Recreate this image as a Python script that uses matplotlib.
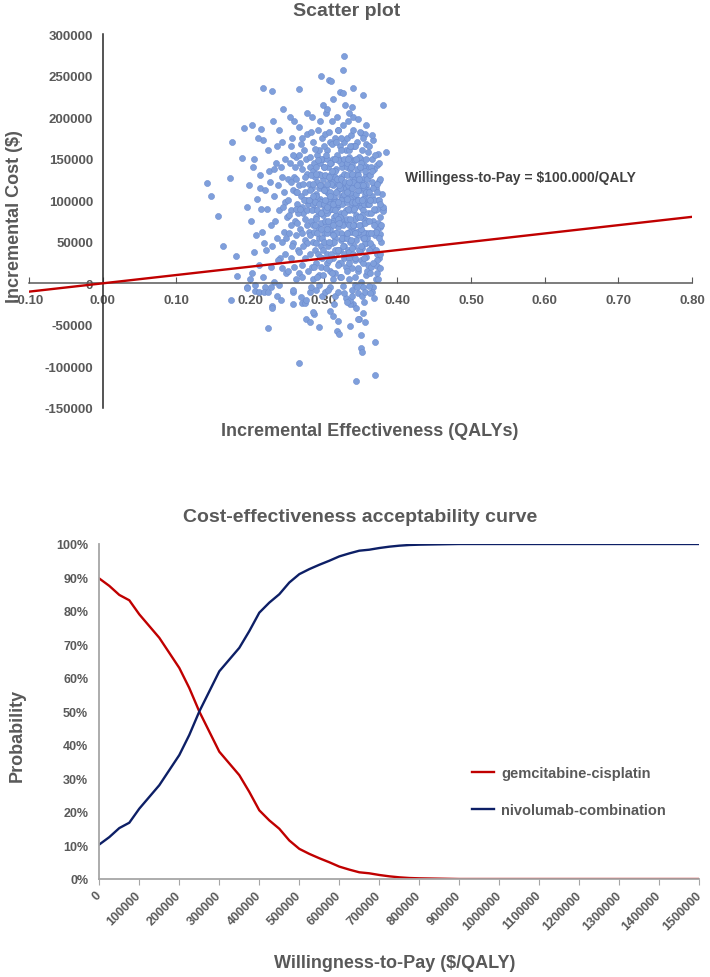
import matplotlib
matplotlib.use("Agg")
import matplotlib.pyplot as plt
import numpy as np

plt.rcParams['font.family'] = ['Liberation Sans', 'DejaVu Sans']
plt.rcParams['font.weight'] = 'bold'
GREY = '#595959'

# ---- scatter plot data (incremental QALYs, incremental cost in $1000) ----
scatter_pts = [
    # sparse outliers
    (0.141, 121), (0.147, 105), (0.156, 81), (0.164, 45), (0.181, 33), (0.173, 127), (0.176, 170),
    (0.182, 9), (0.174, -20), (0.189, 151), (0.192, 187), (0.203, 191), (0.215, 186), (0.218, 235),
    (0.230, 231), (0.267, 234), (0.297, 249), (0.307, 245), (0.310, 243), (0.327, 273), (0.326, 257),
    (0.322, 230), (0.326, 229), (0.340, 235), (0.353, 227), (0.339, 212), (0.380, 214), (0.340, 200),
    (0.334, 205), (0.385, 158), (0.374, 156), (0.367, 173), (0.351, 181), (0.375, 123), (0.380, 90),
    (0.381, 87), (0.377, 68), (0.376, 59), (0.373, 21), (0.372, 12), (0.355, -23), (0.340, -25),
    (0.354, -36), (0.348, -43), (0.356, -47), (0.336, -51), (0.351, -62), (0.370, -70), (0.351, -78),
    (0.352, -83), (0.370, -110), (0.344, -118), (0.224, -54), (0.267, -96), (0.230, -27), (0.230, -30),
    (0.276, -43), (0.282, -47), (0.293, -52), (0.287, -37), (0.270, -24), (0.309, -33), (0.312, -39),
    (0.320, -45), (0.318, -57), (0.321, -61), (0.336, -25), (0.347, -43), (0.220, -4), (0.207, -9),
    (0.196, -5), (0.330, -18), (0.285, -35), (0.274, -24), (0.269, -17), (0.259, -11), (0.281, -11),
    (0.212, -10), (0.219, -10), (0.196, -6),
    # 0.19 - 0.22
    (0.196, 92), (0.199, 118), (0.201, 75), (0.204, 140), (0.206, 150), (0.208, 58), (0.210, 102),
    (0.212, 22), (0.200, 5), (0.205, 38), (0.214, 130), (0.216, 62), (0.218, 172), (0.211, 175),
    (0.203, 12), (0.219, 48), (0.215, 90), (0.207, -2), (0.213, 115), (0.217, 8),
    # 0.22 - 0.25
    (0.221, 112), (0.223, 90), (0.224, 160), (0.226, 135), (0.228, 70), (0.222, 40), (0.229, 20),
    (0.231, 195), (0.233, 105), (0.235, 145), (0.236, 55), (0.238, 118), (0.240, 88), (0.241, 30),
    (0.243, 170), (0.244, 128), (0.246, 62), (0.247, 98), (0.249, 12), (0.225, -10), (0.232, 2),
    (0.237, -15), (0.242, -20), (0.248, 150), (0.239, 185), (0.245, 210), (0.234, 75), (0.227, 122),
    (0.230, 45), (0.250, 80), (0.246, 110), (0.240, -2), (0.243, 50), (0.236, 165), (0.229, -4),
    (0.244, 18), (0.248, 35), (0.232, 138), (0.238, 28), (0.251, 125),
    (0.245, 92), (0.249, 55), (0.242, 140),
    # 0.25 - 0.28
    (0.252, 100), (0.253, 60), (0.254, 145), (0.255, 30), (0.256, 88), (0.257, 175), (0.258, 112),
    (0.259, 48), (0.260, 128), (0.261, 75), (0.262, 5), (0.263, 152), (0.264, 95), (0.265, 40),
    (0.266, 118), (0.267, 188), (0.268, 65), (0.269, 105), (0.270, 138), (0.271, 22), (0.272, 85),
    (0.273, 160), (0.274, 52), (0.275, 110), (0.276, -20), (0.277, 132), (0.278, 70), (0.279, 95),
    (0.252, 15), (0.255, 165), (0.258, -25), (0.260, 195), (0.262, 110), (0.264, 72), (0.266, 12),
    (0.268, 145), (0.270, 92), (0.272, 120), (0.274, 30), (0.276, 100), (0.278, 180), (0.253, 82),
    (0.256, 122), (0.259, -8), (0.261, 140), (0.263, 58), (0.265, 85), (0.267, 38), (0.269, 168),
    (0.271, 60), (0.273, 100), (0.275, 78), (0.277, 205), (0.279, 15), (0.254, 200), (0.257, 45),
    (0.262, 90), (0.266, 155), (0.270, 8), (0.274, 128), (0.278, 48), (0.280, 120), (0.280, 62),
    (0.255, 70), (0.262, 125), (0.268, 90), (0.272, 45), (0.276, 150), (0.258, 155), (0.264, 110),
    (0.270, 175), (0.260, 20), (0.277, 88),
    # 0.28 - 0.30
    (0.281, 100), (0.282, 140), (0.283, 75), (0.284, 115), (0.285, 50), (0.286, 170), (0.287, 90),
    (0.288, 128), (0.289, 25), (0.290, 108), (0.291, 155), (0.292, 68), (0.293, 132), (0.294, 85),
    (0.295, 195), (0.296, 45), (0.297, 118), (0.298, 95), (0.299, 150), (0.300, 60), (0.281, 35),
    (0.283, 182), (0.285, 95), (0.287, 145), (0.289, 80), (0.291, 122), (0.293, 10), (0.295, 102),
    (0.297, 72), (0.299, 125), (0.282, 58), (0.284, 88), (0.286, 120), (0.288, 40), (0.290, 78),
    (0.292, 100), (0.294, 160), (0.296, 130), (0.298, 30), (0.300, 88), (0.281, 152), (0.283, -5),
    (0.285, 135), (0.287, 62), (0.289, 105), (0.291, 88), (0.293, 55), (0.295, 145), (0.297, 20),
    (0.299, 82), (0.282, 112), (0.284, 200), (0.286, 70), (0.288, 98), (0.290, 140), (0.292, 35),
    (0.294, 115), (0.296, 65), (0.298, 175), (0.300, 112), (0.284, 20), (0.288, 162), (0.292, 185),
    (0.296, 98), (0.300, 140), (0.286, 5), (0.290, 48), (0.294, -2), (0.298, 55), (0.299, 215),
    (0.280, 100), (0.283, 130), (0.286, 105), (0.289, 132), (0.291, 60), (0.293, 95), (0.295, 118),
    (0.297, 150), (0.299, 40), (0.287, 20), (0.291, 8), (0.295, 32), (0.299, 10), (0.288, 70),
    (0.292, 148), (0.296, 85), (0.290, -8), (0.298, -15),
    # 0.30 - 0.33
    (0.301, 95), (0.302, 130), (0.303, 70), (0.304, 110), (0.305, 160), (0.306, 45), (0.307, 88),
    (0.308, 125), (0.309, 62), (0.310, 145), (0.311, 100), (0.312, 30), (0.313, 118), (0.314, 80),
    (0.315, 175), (0.316, 55), (0.317, 138), (0.318, 92), (0.319, 112), (0.320, 68), (0.321, 150),
    (0.322, 40), (0.323, 105), (0.324, 128), (0.325, 78), (0.326, 190), (0.327, 58), (0.328, 98),
    (0.329, 142), (0.330, 20), (0.301, 50), (0.302, 180), (0.303, 115), (0.304, 25), (0.305, 85),
    (0.306, 140), (0.307, 108), (0.308, 65), (0.309, 170), (0.310, 90), (0.311, 48), (0.312, 122),
    (0.313, 75), (0.314, 135), (0.315, 100), (0.316, 12), (0.317, 82), (0.318, 155), (0.319, 40),
    (0.320, 120), (0.321, 95), (0.322, 165), (0.323, 60), (0.324, 85), (0.325, 140), (0.326, 105),
    (0.327, 30), (0.328, 120), (0.329, 72), (0.330, 160), (0.301, 140), (0.302, 75), (0.303, 205),
    (0.304, 150), (0.305, 35), (0.306, 100), (0.307, 182), (0.308, 15), (0.309, 95), (0.310, 120),
    (0.311, 72), (0.312, 150), (0.313, 5), (0.314, 105), (0.315, 60), (0.316, 128), (0.317, 110),
    (0.318, 38), (0.319, 185), (0.320, 95), (0.321, 25), (0.322, 80), (0.323, 145), (0.324, 52),
    (0.325, 115), (0.326, 70), (0.327, 132), (0.328, 45), (0.329, 100), (0.330, 88), (0.302, 100),
    (0.304, 60), (0.306, 75), (0.308, 145), (0.310, 35), (0.312, 90), (0.314, 50), (0.316, 98),
    (0.318, 125), (0.320, 148), (0.322, 115), (0.324, 100), (0.326, 45), (0.328, 170), (0.330, 115),
    (0.303, 88), (0.305, 120), (0.307, 50), (0.309, 130), (0.311, 168), (0.313, 95), (0.315, 135),
    (0.317, 60), (0.319, 78), (0.321, 118), (0.323, 25), (0.325, 95), (0.327, 150), (0.329, 55),
    (0.331, 130), (0.305, 210), (0.311, 195), (0.318, 200), (0.324, 175), (0.329, 215), (0.313, 222),
    (0.320, 185), (0.302, -10), (0.308, -5), (0.315, -15), (0.322, 8), (0.328, -12), (0.331, 75),
    (0.332, 105), (0.333, 40),
    (0.301, 112), (0.303, 155), (0.305, 65), (0.307, 128), (0.309, 110), (0.311, 135), (0.313, 58),
    (0.315, 88), (0.317, 170), (0.319, 98), (0.321, 72), (0.323, 125), (0.325, 55), (0.327, 108),
    (0.329, 122), (0.303, 18), (0.307, 28), (0.311, 12), (0.315, 40), (0.319, 22), (0.323, 8),
    (0.327, 35), (0.300, 165), (0.304, 92), (0.308, 105), (0.312, 70), (0.316, 150), (0.320, 40),
    (0.324, 160), (0.328, 85), (0.306, -8), (0.314, -25), (0.320, -10), (0.326, -3),
    # 0.33 - 0.36
    (0.331, 98), (0.332, 140), (0.333, 72), (0.334, 115), (0.335, 160), (0.336, 50), (0.337, 92),
    (0.338, 128), (0.339, 65), (0.340, 148), (0.341, 105), (0.342, 28), (0.343, 120), (0.344, 82),
    (0.345, 170), (0.346, 58), (0.347, 135), (0.348, 95), (0.349, 112), (0.350, 70), (0.351, 150),
    (0.352, 42), (0.353, 102), (0.354, 125), (0.355, 78), (0.356, 180), (0.357, 60), (0.358, 96),
    (0.359, 140), (0.360, 22), (0.331, 55), (0.332, 175), (0.333, 118), (0.334, 30), (0.335, 88),
    (0.336, 138), (0.337, 110), (0.338, 62), (0.339, 165), (0.340, 88), (0.341, 45), (0.342, 125),
    (0.343, 78), (0.344, 132), (0.345, 100), (0.346, 15), (0.347, 80), (0.348, 152), (0.349, 38),
    (0.350, 122), (0.351, 92), (0.352, 160), (0.353, 62), (0.354, 88), (0.355, 142), (0.356, 108),
    (0.357, 32), (0.358, 118), (0.359, 75), (0.360, 158), (0.331, 145), (0.332, 78), (0.333, 195),
    (0.334, 152), (0.335, 38), (0.336, 102), (0.337, 178), (0.338, 18), (0.339, 98), (0.340, 122),
    (0.341, 70), (0.342, 148), (0.343, 8), (0.344, 108), (0.345, 62), (0.346, 130), (0.347, 112),
    (0.348, 40), (0.349, 182), (0.350, 98), (0.351, 28), (0.352, 82), (0.353, 140), (0.354, 55),
    (0.355, 115), (0.356, 72), (0.357, 130), (0.358, 48), (0.359, 102), (0.360, 85), (0.332, 102),
    (0.334, 62), (0.336, 78), (0.338, 142), (0.340, 35), (0.342, 92), (0.344, 52), (0.346, 100),
    (0.348, 125), (0.350, 145), (0.352, 118), (0.354, 102), (0.356, 48), (0.358, 168), (0.360, 112),
    (0.333, 90), (0.335, 122), (0.337, 52), (0.339, 132), (0.341, 165), (0.343, 98), (0.345, 138),
    (0.347, 62), (0.349, 80), (0.351, 118), (0.353, 25), (0.355, 95), (0.357, 150), (0.359, 55),
    (0.361, 130), (0.334, 5), (0.338, -8), (0.342, -2), (0.346, -12), (0.350, 2), (0.354, -5),
    (0.358, 10), (0.336, -20), (0.344, -30), (0.352, -15), (0.340, 185), (0.347, 198), (0.353, 175),
    (0.357, 190), (0.343, 165),
    (0.331, 110), (0.333, 150), (0.335, 70), (0.337, 140), (0.339, 115), (0.341, 90), (0.343, 60),
    (0.345, 118), (0.347, 100), (0.349, 140), (0.351, 65), (0.353, 118), (0.355, 55), (0.357, 110),
    (0.359, 125), (0.331, 15), (0.335, 25), (0.339, 42), (0.343, 30), (0.347, 18), (0.351, 45),
    (0.355, 30), (0.359, 15), (0.332, 60), (0.336, 165), (0.340, 70), (0.344, 150), (0.348, 70),
    (0.352, 100), (0.356, 135), (0.360, 95), (0.332, -22), (0.338, -15), (0.345, -5), (0.356, -10),
    # 0.36 - 0.385
    (0.361, 95), (0.362, 60), (0.363, 130), (0.364, 20), (0.365, 105), (0.366, 150), (0.367, 75),
    (0.368, 40), (0.369, 118), (0.370, 88), (0.371, 5), (0.372, 142), (0.373, 65), (0.374, 100),
    (0.375, 30), (0.376, 125), (0.377, 80), (0.378, 50), (0.379, 108), (0.380, 92), (0.362, 165),
    (0.364, 85), (0.366, 45), (0.368, 138), (0.370, 155), (0.372, 28), (0.374, 72), (0.376, 18),
    (0.363, 12), (0.367, -5), (0.369, 60), (0.371, 115), (0.373, 35), (0.375, 145), (0.365, 178),
    (0.362, 110), (0.366, 122), (0.370, 58), (0.364, 140), (0.368, 100), (0.361, 40), (0.365, -10),
    (0.372, 90), (0.378, 70), (0.369, -18), (0.363, -12),
    (0.361, 75), (0.363, 100), (0.365, 135), (0.367, 115), (0.369, 90), (0.371, 62), (0.373, 120),
    (0.375, 100), (0.363, 48), (0.367, 25), (0.371, 40), (0.375, 55), (0.377, 35), (0.364, 60),
    (0.368, 70), (0.372, 110), (0.376, 95), (0.362, -3), (0.374, 5),
]
eff = np.array([p[0] for p in scatter_pts])
cost = np.array([p[1] for p in scatter_pts]) * 1000

wtp_threshold = 100000
wtp_line_x = [-0.10, 0.80]

# ---- CEAC data ----
wtp = [0, 25000, 50000, 75000, 100000, 125000, 150000, 175000, 200000, 225000, 250000,
       275000, 300000, 325000, 350000, 375000, 400000, 425000, 450000, 475000, 500000,
       525000, 550000, 575000, 600000, 625000, 650000, 675000, 700000, 725000, 750000,
       775000, 800000, 850000, 900000, 1000000, 1100000, 1200000, 1300000, 1400000, 1500000]
p_nivo = [10.3, 12.5, 15.2, 16.8, 21.0, 24.5, 28.0, 32.5, 37.0, 43.0, 50.0,
          56.0, 62.0, 65.5, 69.0, 74.0, 79.5, 82.5, 85.0, 88.5, 91.0,
          92.5, 93.8, 95.0, 96.3, 97.2, 98.0, 98.3, 98.8, 99.2, 99.5,
          99.7, 99.8, 99.9, 100, 100, 100, 100, 100, 100, 100]
p_gem = [89.7, 87.5, 84.8, 83.2, 79.0, 75.5, 72.0, 67.5, 63.0, 57.0, 50.0,
         44.0, 38.0, 34.5, 31.0, 26.0, 20.5, 17.5, 15.0, 11.5, 9.0,
         7.5, 6.2, 5.0, 3.7, 2.8, 2.0, 1.7, 1.2, 0.8, 0.5,
         0.3, 0.2, 0.1, 0, 0, 0, 0, 0, 0, 0]

fig = plt.figure(figsize=(7.10, 9.78), dpi=100)

# ================= scatter plot =================
ax1 = fig.add_axes([29 / 710, 1 - 409 / 978, 663 / 710, 374 / 978])
ax1.scatter(eff, cost, s=19, color='#7f9fdb', edgecolors='#6c8cd0', linewidths=0.4, zorder=2)
ax1.plot(wtp_line_x, [x * wtp_threshold for x in wtp_line_x], color='#c00000', lw=1.7, zorder=3)
ax1.set_xlim(-0.1, 0.8)
ax1.set_ylim(-150000, 300000)
ax1.spines['left'].set_position(('data', 0))
ax1.spines['bottom'].set_position(('data', 0))
ax1.spines['top'].set_visible(False)
ax1.spines['right'].set_visible(False)
ax1.spines['left'].set_color('#262626')
ax1.spines['bottom'].set_color('#595959')
ax1.spines['left'].set_linewidth(1.1)
ax1.spines['bottom'].set_linewidth(1.1)
xt = np.round(np.arange(-0.1, 0.81, 0.1), 2)
ax1.set_xticks(xt)
ax1.set_xticklabels([f"{v:.2f}" for v in xt])
yt = np.arange(-150000, 300001, 50000)
ax1.set_yticks(yt)
ax1.set_yticklabels([str(v) for v in yt])
ax1.tick_params(axis='x', direction='in', length=4, color='#595959', pad=8,
                labelsize=9.5, labelcolor=GREY)
ax1.tick_params(axis='y', length=0, pad=7, labelsize=9.5, labelcolor=GREY)
for lab in ax1.get_xticklabels() + ax1.get_yticklabels():
    lab.set_fontweight('bold')
ax1.text(0.411, 127700, 'Willingess-to-Pay = $100.000/QALY', fontsize=10, fontweight='bold',
         color='#404040', ha='left', va='center')

fig.text(347 / 710, 1 - 12 / 978, 'Scatter plot', fontsize=14, fontweight='bold',
         color=GREY, ha='center', va='center')
fig.text(370 / 710, 1 - 432 / 978, 'Incremental Effectiveness (QALYs)', fontsize=13,
         fontweight='bold', color=GREY, ha='center', va='center')
fig.text(15 / 710, 1 - 217 / 978, 'Incremental Cost ($)', fontsize=13, fontweight='bold',
         color=GREY, ha='center', va='center', rotation=90)

# ================= CEAC =================
ax2 = fig.add_axes([99.3 / 710, 1 - 880 / 978, 600 / 710, 335 / 978])
ax2.plot(wtp, p_gem, color='#c00000', lw=1.7, label='gemcitabine-cisplatin')
ax2.plot(wtp, p_nivo, color='#0d1f66', lw=1.7, label='nivolumab-combination')
ax2.set_xlim(0, 1500000)
ax2.set_ylim(0, 100)
ax2.spines['top'].set_visible(False)
ax2.spines['right'].set_visible(False)
for s in ['left', 'bottom']:
    ax2.spines[s].set_color('#a6a6a6')
    ax2.spines[s].set_linewidth(1.3)
xt2 = np.arange(0, 1500001, 100000)
ax2.set_xticks(xt2)
ax2.set_xticklabels([str(v) for v in xt2], rotation=45, ha='right', va='center',
                    rotation_mode='anchor')
ax2.set_yticks(np.arange(0, 101, 10))
ax2.set_yticklabels([f"{v}%" for v in range(0, 101, 10)])
ax2.tick_params(axis='x', direction='out', length=4, color='#a6a6a6', pad=6,
                labelsize=9, labelcolor=GREY)
ax2.tick_params(axis='y', length=0, pad=8, labelsize=9, labelcolor=GREY)
for lab in ax2.get_xticklabels() + ax2.get_yticklabels():
    lab.set_fontweight('bold')
leg = ax2.legend(loc='upper left', bbox_to_anchor=(465 / 710, 1 - 760 / 978),
                 bbox_transform=fig.transFigure, frameon=False, fontsize=10.5,
                 handlelength=1.5, handletextpad=0.5, labelspacing=1.55, borderpad=0)
for t in leg.get_texts():
    t.set_color(GREY)
    t.set_fontweight('bold')

fig.text(360 / 710, 1 - 517 / 978, 'Cost-effectiveness acceptability curve', fontsize=14,
         fontweight='bold', color=GREY, ha='center', va='center')
fig.text(395 / 710, 1 - 964 / 978, 'Willingness-to-Pay ($/QALY)', fontsize=13,
         fontweight='bold', color=GREY, ha='center', va='center')
fig.text(17 / 710, 1 - 735 / 978, 'Probability', fontsize=13, fontweight='bold',
         color=GREY, ha='center', va='center', rotation=90)

fig.savefig('out.png', dpi=100, facecolor='white')
